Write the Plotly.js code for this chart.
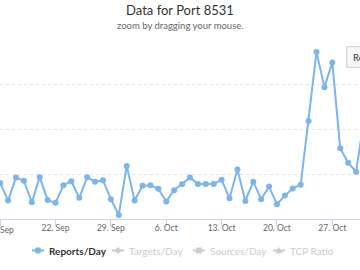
<!DOCTYPE html>
<html>
<head>
<meta charset="utf-8">
<script src="https://cdn.plot.ly/plotly-3.0.1.min.js"></script>
<style>html,body{margin:0;padding:0;background:#fff;overflow:hidden}#chart{width:360px;height:270px}</style>
</head>
<body>
<div id="chart"></div>
<script>
const dates = ["2015-09-15","2015-09-16","2015-09-17","2015-09-18","2015-09-19","2015-09-20","2015-09-21","2015-09-22","2015-09-23","2015-09-24","2015-09-25","2015-09-26","2015-09-27","2015-09-28","2015-09-29","2015-09-30","2015-10-01","2015-10-02","2015-10-03","2015-10-04","2015-10-05","2015-10-06","2015-10-07","2015-10-08","2015-10-09","2015-10-10","2015-10-11","2015-10-12","2015-10-13","2015-10-14","2015-10-15","2015-10-16","2015-10-17","2015-10-18","2015-10-19","2015-10-20","2015-10-21","2015-10-22","2015-10-23","2015-10-24","2015-10-25","2015-10-26","2015-10-27","2015-10-28","2015-10-29","2015-10-30","2015-10-31"];
const reportsPerDay = [80,41,92,85,37,93,42,36,75,84,47,93,83,86,44,9,118,41,74,75,67,39,64,77,92,78,78,78,87,46,110,40,83,44,72,33,52,68,76,218,371,293,348,157,125,105,220];
const tickDates = ["2015-09-15","2015-09-22","2015-09-29","2015-10-06","2015-10-13","2015-10-20","2015-10-27"];
const tickLabels = ["15. Sep","22. Sep","29. Sep","6. Oct","13. Oct","20. Oct","27. Oct"];
const yTicks = [0,100,200,300,400];
const legendLabels = ["Reports/Day","Targets/Day","Sources/Day","TCP Ratio"];
const legendSymbols = ["circle","diamond","square","triangle"];
const legendActive = [true,false,false,false];

const FONT = "Lato, 'Open Sans', sans-serif";
const BLUE = '#7cb5ec';
const HIDDEN = '#cccccc';

const traces = [
  {x: dates, y: reportsPerDay, type: 'scatter', mode: 'lines+markers', name: legendLabels[0],
   line: {color: BLUE, width: 2}, marker: {color: BLUE, size: 6, symbol: 'circle'}, cliponaxis: true, showlegend: false}
];

// pixel helpers for chrome (legend, button)
const PT = 39, PH = 180, W = 360;
const px = v => v / W;
const py = v => (PT + PH - v) / PH;

const shapes = [
  {type: 'rect', xref: 'paper', yref: 'paper', x0: px(346.7), x1: 1.1, y0: py(67.3), y1: py(46.7), fillcolor: '#f7f7f7', line: {color: '#cccccc', width: 1}, layer: 'above'}
];
const annotations = [
  {text: 'zoom by dragging your mouse.', xref: 'paper', yref: 'paper', x: 0.5, y: py(25), xanchor: 'center', yanchor: 'middle', showarrow: false, font: {size: 9.5, color: '#666', family: FONT}},
  {text: 'Reset zoom', xref: 'paper', yref: 'paper', x: px(351), y: py(57), xanchor: 'left', yanchor: 'middle', showarrow: false, font: {size: 9.5, color: '#333', family: FONT}},
  // first (edge) date label, which Plotly drops at the very edge of the range
  {text: tickLabels[0], xref: 'x', yref: 'paper', x: tickDates[0], y: py(230), xanchor: 'center', yanchor: 'middle', showarrow: false, font: {size: 8.5, color: '#666', family: FONT}}
];

const legendTextX = [47, 127, 208, 288];
const legendY = 250.5;
legendLabels.forEach((lab, i) => {
  const col = legendActive[i] ? BLUE : HIDDEN;
  const tx = legendTextX[i];
  const sx = tx - 9;
  shapes.push({type: 'line', xref: 'paper', yref: 'paper', x0: px(sx - 6), x1: px(sx + 6), y0: py(legendY), y1: py(legendY), line: {color: col, width: 2}, layer: 'above'});
  const base = {xref: 'paper', yref: 'paper', xsizemode: 'pixel', ysizemode: 'pixel', xanchor: px(sx), yanchor: py(legendY), fillcolor: col, line: {color: col, width: 0.5}, layer: 'above'};
  const sym = legendSymbols[i];
  if (sym === 'circle') shapes.push(Object.assign({type: 'circle', x0: -3, x1: 3, y0: -3, y1: 3}, base));
  else if (sym === 'diamond') shapes.push(Object.assign({type: 'path', path: 'M0,3.2L3.2,0L0,-3.2L-3.2,0Z'}, base));
  else if (sym === 'square') shapes.push(Object.assign({type: 'path', path: 'M-2.7,-2.7L2.7,-2.7L2.7,2.7L-2.7,2.7Z'}, base));
  else shapes.push(Object.assign({type: 'path', path: 'M-3,-2.5L3,-2.5L0,3Z'}, base));
  annotations.push({text: legendActive[i] ? '<b>' + lab + '</b>' : lab, xref: 'paper', yref: 'paper', x: px(tx), y: py(legendY), xanchor: 'left', yanchor: 'middle', showarrow: false,
    font: {size: 10, color: legendActive[i] ? '#333' : HIDDEN, family: FONT}});
});

const layout = {
  width: 360, height: 270,
  margin: {l: 0, r: 0, t: PT, b: 270 - PT - PH, pad: 0},
  paper_bgcolor: '#fff', plot_bgcolor: '#fff',
  font: {family: FONT, color: '#333'},
  title: {text: 'Data for Port 8531', font: {size: 13, color: '#333', family: FONT}, x: 0.5, xanchor: 'center', y: 1 - 10/270, yanchor: 'middle', yref: 'container'},
  xaxis: {type: 'date', range: ['2015-09-14 23:30', '2015-10-30 12:00'],
    tickmode: 'array', tickvals: tickDates, ticktext: tickLabels,
    showgrid: false, zeroline: false, showline: true, linecolor: '#ccd6eb', linewidth: 1,
    ticks: 'outside', ticklen: 6, tickcolor: '#ccd6eb', tickwidth: 1, ticklabelstandoff: -5,
    tickfont: {size: 8.5, color: '#666', family: FONT}, fixedrange: true},
  yaxis: {range: [0, 400], tickmode: 'array', tickvals: yTicks, showticklabels: false,
    showgrid: true, gridcolor: '#e3e3e3', griddash: 'dot', gridwidth: 1, zeroline: false, showline: false, ticks: '', fixedrange: true},
  showlegend: false,
  annotations: annotations,
  shapes: shapes
};

Plotly.newPlot('chart', traces, layout, {displayModeBar: false, staticPlot: true});
</script>
</body>
</html>
